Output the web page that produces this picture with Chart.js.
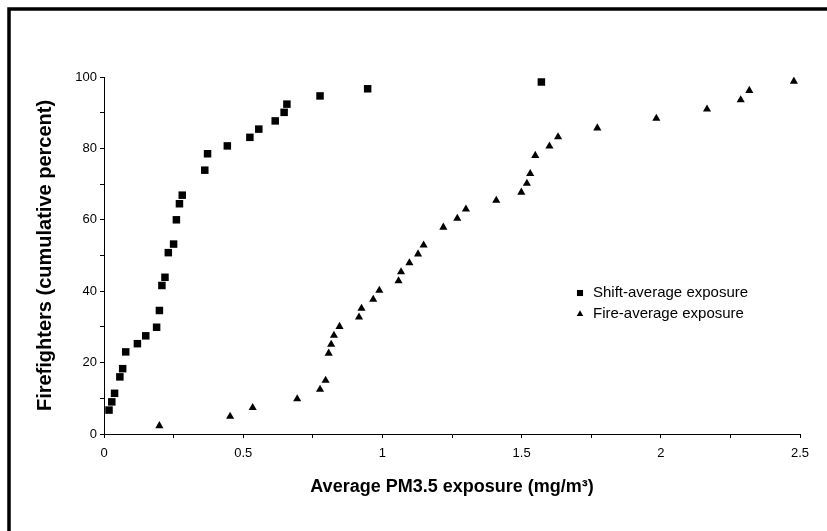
<!DOCTYPE html>
<html>
<head>
<meta charset="utf-8">
<title>PM3.5 exposure</title>
<script src="https://cdn.jsdelivr.net/npm/chart.js@4.4.1/dist/chart.umd.min.js"></script>
<style>
  html, body { margin: 0; padding: 0; background: #fff; }
  #wrap { width: 827px; height: 531px; }
</style>
</head>
<body>
<div id="wrap"><canvas id="chart" width="827" height="531"></canvas></div>
<script>
// values (x in mg/m3, y in cumulative percent)
const shiftX = [0.018, 0.028, 0.038, 0.057, 0.067, 0.078, 0.120, 0.150, 0.189, 0.199,
                0.208, 0.219, 0.231, 0.250, 0.260, 0.271, 0.281, 0.362, 0.372, 0.443,
                0.524, 0.556, 0.615, 0.647, 0.657, 0.776, 0.947, 1.571];
const shiftY = [6.7, 9.0, 11.4, 16.0, 18.3, 23.0, 25.3, 27.5, 29.9, 34.6,
                41.6, 43.9, 50.8, 53.2, 60.0, 64.5, 66.9, 73.9, 78.5, 80.7,
                83.1, 85.4, 87.7, 90.1, 92.4, 94.7, 96.7, 98.6];

const fireX = [0.199, 0.453, 0.534, 0.694, 0.776, 0.796, 0.807, 0.816, 0.826, 0.846,
               0.916, 0.925, 0.967, 0.989, 1.058, 1.067, 1.097, 1.128, 1.148, 1.219,
               1.269, 1.300, 1.409, 1.499, 1.519, 1.531, 1.549, 1.600, 1.631, 1.772,
               1.984, 2.166, 2.287, 2.318, 2.478];
const fireY = [2.3, 4.9, 7.4, 9.8, 12.5, 15.0, 22.6, 25.1, 27.6, 30.1,
               32.7, 35.2, 37.7, 40.2, 42.9, 45.4, 47.9, 50.4, 52.9, 57.9,
               60.4, 63.0, 65.4, 67.7, 70.2, 72.9, 78.0, 80.6, 83.2, 85.7,
               88.4, 91.0, 93.6, 96.2, 98.8];

const xLabels = [0, 0.5, 1, 1.5, 2, 2.5];
const yLabels = [0, 20, 40, 60, 80, 100];

const FONT = '"Liberation Sans", Arial, Helvetica, sans-serif';

const toPoints = (xs, ys) => xs.map((x, i) => ({ x, y: ys[i] }));
const isLabel = (list, v) => list.some(l => Math.abs(l - v) < 1e-6);

// white page + black frame; right and bottom sides run off the picture
const frame = {
  id: 'frame',
  beforeDraw(chart) {
    const ctx = chart.ctx;
    ctx.save();
    ctx.fillStyle = '#fff';
    ctx.fillRect(0, 0, chart.width, chart.height);
    ctx.strokeStyle = '#000';
    ctx.lineWidth = 3.5;
    ctx.strokeRect(9, 9, chart.width + 20, chart.height + 20);
    ctx.restore();
  }
};

// legend sits inside the plot, to the right
const insideLegend = {
  id: 'insideLegend',
  afterDraw(chart) {
    const ctx = chart.ctx;
    ctx.save();
    ctx.font = '15px ' + FONT;
    ctx.fillStyle = '#000';
    ctx.textBaseline = 'middle';
    chart.data.datasets.forEach((ds, i) => {
      const y = 293 + i * 21;
      Chart.helpers.drawPoint(ctx, { pointStyle: ds.pointStyle, radius: ds.pointStyle === 'rect' ? 4.3 : 3.8, borderWidth: 0 }, 580, y);
      ctx.fillText(ds.label, 593, y);
    });
    ctx.restore();
  }
};

new Chart(document.getElementById('chart'), {
  type: 'scatter',
  data: {
    datasets: [
      { label: 'Shift-average exposure', data: toPoints(shiftX, shiftY), pointStyle: 'rect', pointRadius: 5.3,
        backgroundColor: '#000', borderColor: '#000', borderWidth: 0 },
      { label: 'Fire-average exposure', data: toPoints(fireX, fireY), pointStyle: 'triangle', pointRadius: 4.7,
        backgroundColor: '#000', borderColor: '#000', borderWidth: 0 }
    ]
  },
  options: {
    responsive: false,
    animation: false,
    layout: { padding: { left: 0, right: 27, top: 77, bottom: 0 } },
    plugins: { legend: { display: false }, tooltip: { enabled: false } },
    scales: {
      x: {
        type: 'linear', min: 0, max: 2.5,
        afterFit: s => { s.height = 97; },
        ticks: { stepSize: 0.25, autoSkip: false, maxRotation: 0, padding: 8, color: '#000',
                 font: { family: FONT, size: 13 },
                 callback: v => isLabel(xLabels, v) ? String(v) : '' },
        grid: { drawOnChartArea: false, tickLength: 4, color: '#000' },
        border: { color: '#000', width: 1 },
        title: { display: true, text: 'Average PM3.5 exposure (mg/m³)', color: '#000',
                 font: { family: FONT, size: 18, weight: 'bold' }, padding: { top: 0, bottom: 33 } }
      },
      y: {
        min: 0, max: 100,
        afterFit: s => { s.width = 104; },
        ticks: { stepSize: 10, autoSkip: false, padding: 3, color: '#000',
                 font: { family: FONT, size: 13 },
                 callback: v => isLabel(yLabels, v) ? String(v) : '' },
        grid: { drawOnChartArea: false, tickLength: 4, color: '#000' },
        border: { color: '#000', width: 1 },
        title: { display: true, text: 'Firefighters (cumulative percent)', color: '#000',
                 font: { family: FONT, size: 20, weight: 'bold' }, padding: { top: 33, bottom: 0 } }
      }
    }
  },
  plugins: [frame, insideLegend]
});
</script>
</body>
</html>
